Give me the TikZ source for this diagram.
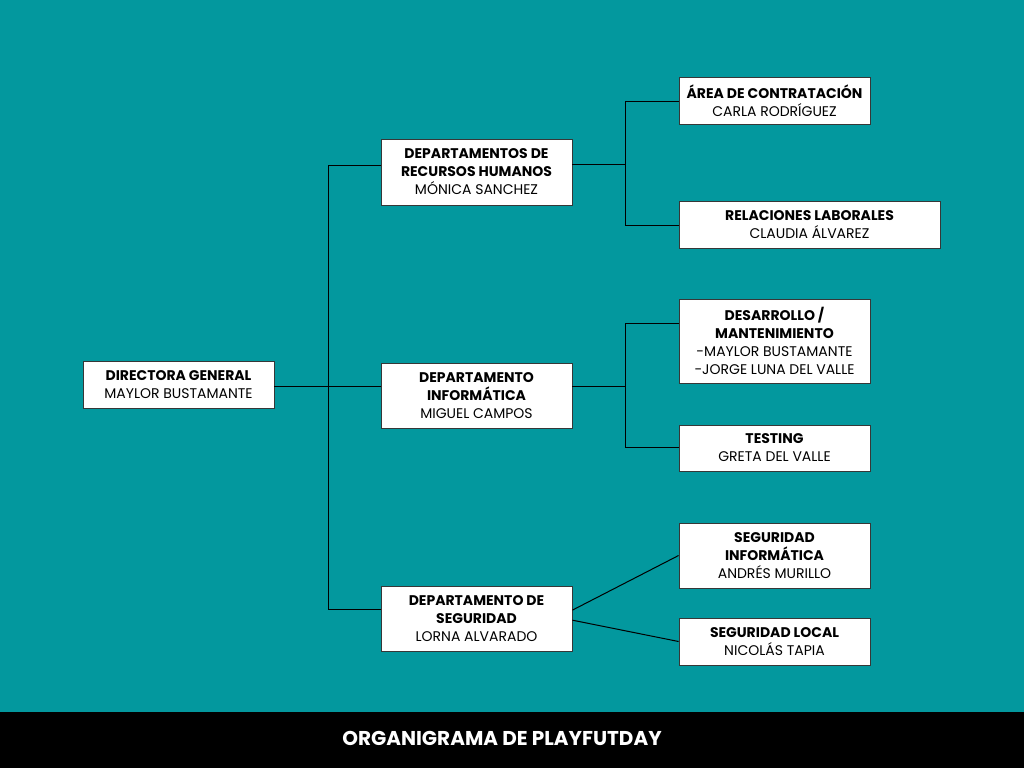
\documentclass[tikz,border=0pt]{standalone}
\usepackage{fontspec}
\setmainfont{Poppins}
\newlength{\du}
\setlength{\du}{1pt}
\definecolor{fondocolor}{RGB}{3,152,158}
\definecolor{bordecolor}{RGB}{55,55,55}
\tikzset{
  caja/.style={draw=bordecolor, line width=0.9\du, fill=white, align=center, inner sep=0pt,
    font=\fontsize{14}{18}\selectfont},
  linea/.style={draw=black, line width=1\du},
}

\begin{document}
\begin{tikzpicture}
\pgftransformxscale{1.000000}
\pgftransformyscale{-1.000000}
\fill[fondocolor] (0.000000\du,0.000000\du) rectangle (1024.000000\du,768.000000\du);
\fill[black] (0.000000\du,712.000000\du) rectangle (1024.000000\du,768.000000\du);
\node[text=white, font=\fontsize{20}{22}\selectfont\bfseries] (titulo) at (502.000000\du,738.000000\du){ORGANIGRAMA DE PLAYFUTDAY};
% cajas
\node[caja, minimum width=191\du, minimum height=47\du] (dir) at (178.500000\du,384.500000\du){\textbf{DIRECTORA GENERAL}\\MAYLOR BUSTAMANTE};
\node[caja, minimum width=191\du, minimum height=66\du] (rrhh) at (476.500000\du,172.000000\du){\textbf{DEPARTAMENTOS DE}\\\textbf{RECURSOS HUMANOS}\\MÓNICA SANCHEZ};
\node[caja, minimum width=191\du, minimum height=65\du] (inf) at (476.500000\du,395.500000\du){\textbf{DEPARTAMENTO}\\\textbf{INFORMÁTICA}\\MIGUEL CAMPOS};
\node[caja, minimum width=191\du, minimum height=65\du] (seg) at (476.500000\du,618.500000\du){\textbf{DEPARTAMENTO DE}\\\textbf{SEGURIDAD}\\LORNA ALVARADO};
\node[caja, minimum width=191\du, minimum height=47\du] (area) at (774.500000\du,100.500000\du){\textbf{ÁREA DE CONTRATACIÓN}\\CARLA RODRÍGUEZ};
\node[caja, minimum width=261\du, minimum height=47\du] (rel) at (809.500000\du,224.500000\du){\textbf{RELACIONES LABORALES}\\CLAUDIA ÁLVAREZ};
\node[caja, minimum width=191\du, minimum height=84\du] (des) at (774.500000\du,341.000000\du){\textbf{DESARROLLO /}\\\textbf{MANTENIMIENTO}\\-MAYLOR BUSTAMANTE\\-JORGE LUNA DEL VALLE};
\node[caja, minimum width=191\du, minimum height=46\du] (test) at (774.500000\du,448.000000\du){\textbf{TESTING}\\GRETA DEL VALLE};
\node[caja, minimum width=191\du, minimum height=65\du] (seginf) at (774.500000\du,555.500000\du){\textbf{SEGURIDAD}\\\textbf{INFORMÁTICA}\\ANDRÉS MURILLO};
\node[caja, minimum width=191\du, minimum height=47\du] (segloc) at (774.500000\du,641.500000\du){\textbf{SEGURIDAD LOCAL}\\NICOLÁS TAPIA};
% lineas
\coordinate (trA) at (328.000000\du,165.000000\du);
\coordinate (trB) at (328.000000\du,609.000000\du);
\coordinate (trC) at (328.000000\du,386.000000\du);
\draw[linea] (rrhh.west |- trA)--(trA)--(trB)--(seg.west |- trB);
\draw[linea] (dir.east |- trC)--(inf.west |- trC);
\coordinate (rhA) at (625.000000\du,101.000000\du);
\coordinate (rhB) at (625.000000\du,225.000000\du);
\coordinate (rhC) at (625.000000\du,164.000000\du);
\draw[linea] (area.west |- rhA)--(rhA)--(rhB)--(rel.west |- rhB);
\draw[linea] (rrhh.east |- rhC)--(rhC);
\coordinate (inA) at (625.000000\du,323.000000\du);
\coordinate (inB) at (625.000000\du,447.000000\du);
\coordinate (inC) at (625.000000\du,386.000000\du);
\draw[linea] (des.west |- inA)--(inA)--(inB)--(test.west |- inB);
\draw[linea] (inf.east |- inC)--(inC);
\draw[linea] (seg.5)--(seginf.west);
\draw[linea] (seg.-1)--(segloc.west);
\end{tikzpicture}
\end{document}
